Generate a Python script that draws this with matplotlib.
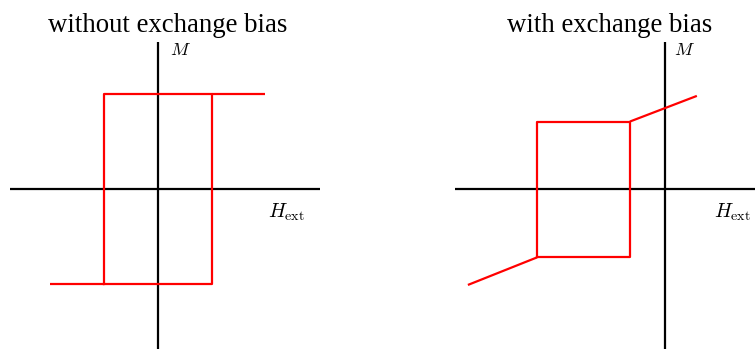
import matplotlib
matplotlib.use("Agg")
import matplotlib.pyplot as plt

plt.rcParams['font.family'] = ['Liberation Serif', 'DejaVu Serif']
plt.rcParams['mathtext.fontset'] = 'cm'

# hysteresis loop without exchange bias (H in units of Hc, M in units of Ms)
left_loop_H = [-1.0, 1.0, 1.0, -1.0, -1.0]
left_loop_M = [-1.0, -1.0, 1.0, 1.0, -1.0]
left_tail_up_H = [1.0, 1.98]
left_tail_up_M = [1.0, 1.0]
left_tail_dn_H = [-2.0, -1.0]
left_tail_dn_M = [-1.0, -1.0]

# hysteresis loop shifted by exchange bias
right_loop_H = [-2.37, -0.65, -0.65, -2.37, -2.37]
right_loop_M = [-0.72, -0.72, 0.71, 0.71, -0.72]
right_tail_up_H = [-0.65, 0.59]
right_tail_up_M = [0.71, 0.98]
right_tail_dn_H = [-3.65, -2.37]
right_tail_dn_M = [-1.01, -0.72]

titles = ['without exchange bias', 'with exchange bias']

W, H = 755, 349
fig = plt.figure(figsize=(W / 100, H / 100), dpi=100)

# px per unit and origin positions (in px)
sx, sy = 54.0, 95.0
oy = 189.0


def make_axes(x0, x1, ox):
    ax = fig.add_axes([x0 / W, 0, (x1 - x0) / W, 1])
    ax.set_xlim((x0 - ox) / sx, (x1 - ox) / sx)
    ax.set_ylim(-(H - oy) / sy, oy / sy)
    ax.axis('off')
    return ax


axL = make_axes(0, 377.5, 158.0)
axR = make_axes(377.5, 755, 665.0)

red = '#ff0000'
lw = 1.6

# left panel
axL.plot([-2.74, 3.0], [0, 0], color='black', lw=lw, solid_capstyle='butt')
axL.plot([0, 0], [-1.8, 1.55], color='black', lw=lw, solid_capstyle='butt')
axL.plot(left_loop_H, left_loop_M, color=red, lw=lw)
axL.plot(left_tail_up_H, left_tail_up_M, color=red, lw=lw, solid_capstyle='butt')
axL.plot(left_tail_dn_H, left_tail_dn_M, color=red, lw=lw, solid_capstyle='butt')
axL.text(0.176, 1.655, titles[0], ha='center', va='baseline', fontsize=19.3)
axL.text(0.22, 1.46, r'$M$', ha='left', va='center', fontsize=13)
axL.text(2.03, -0.24, r'$H_{\mathrm{ext}}$', ha='left', va='center', fontsize=14.5)

# right panel
axR.plot([-3.89, 2.0], [0, 0], color='black', lw=lw, solid_capstyle='butt')
axR.plot([0, 0], [-1.8, 1.55], color='black', lw=lw, solid_capstyle='butt')
axR.plot(right_loop_H, right_loop_M, color=red, lw=lw)
axR.plot(right_tail_up_H, right_tail_up_M, color=red, lw=lw, solid_capstyle='butt')
axR.plot(right_tail_dn_H, right_tail_dn_M, color=red, lw=lw, solid_capstyle='butt')
axR.text(-1.02, 1.655, titles[1], ha='center', va='baseline', fontsize=19.3)
axR.text(0.17, 1.46, r'$M$', ha='left', va='center', fontsize=13)
axR.text(0.91, -0.24, r'$H_{\mathrm{ext}}$', ha='left', va='center', fontsize=14.5)

fig.savefig('out.png', dpi=100)
